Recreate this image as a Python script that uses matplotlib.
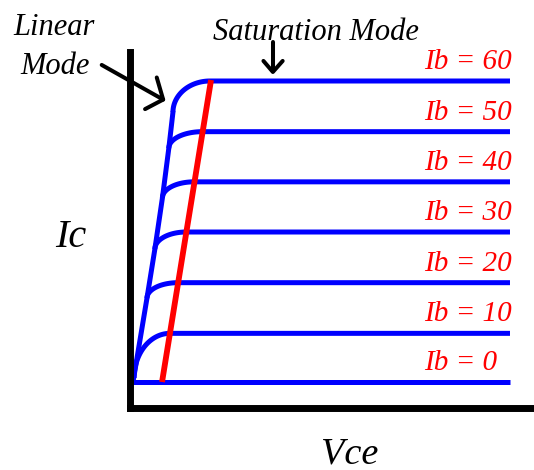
import numpy as np
import matplotlib
matplotlib.use("Agg")
import matplotlib.pyplot as plt

# %% Data (Vce in V, Ic in mA)

ib_values = [0, 10, 20, 30, 40, 50, 60]
ic_sat = [0.0, 0.97, 1.98, 2.99, 3.99, 4.99, 6.0]      # flat level of each curve
knee_vce = [0.0, 0.98, 1.19, 1.41, 1.62, 1.84, 2.04]   # where curve turns flat
arc_start_vce = [0.0, 0.03, 0.37, 0.58, 0.78, 0.95, 1.06]
arc_start_ic = [0.0, 0.08, 1.67, 2.65, 3.67, 4.66, 5.38]
vce_max = 10.0

# linear region envelope
env_vce = [0.0, 0.37, 0.58, 0.78, 0.95, 1.06]
env_ic = [0.0, 1.67, 2.65, 3.67, 4.66, 5.38]

# saturation boundary (red)
red_vce = [0.77, 2.07]
red_ic = [0.0, 6.02]

# %% Figure

W, H = 534, 470
fig = plt.figure(figsize=(W / 100, H / 100), dpi=100)
ax = fig.add_axes([129.5 / W, (H - 407.5) / H, (W - 129.5) / W, (407.5 - 51.7) / H])
ax.set_xlim(-0.093, 10.637)
ax.set_ylim(-0.508, 6.584)
ax.set_xticks([])
ax.set_yticks([])
for s in ["top", "right"]:
    ax.spines[s].set_visible(False)
for s in ["left", "bottom"]:
    ax.spines[s].set_linewidth(5.0)
    ax.spines[s].set_color("black")
    ax.spines[s].set_capstyle("projecting")

blue = "#0000ff"
red = "#ff0000"
font = dict(family="Liberation Serif", style="italic")

# envelope
ax.plot(env_vce, env_ic, color=blue, lw=3.6, solid_capstyle="round",
        solid_joinstyle="round")

# Ib curves: quarter ellipse from the envelope into the flat part
t = np.linspace(0, np.pi / 2, 40)
for i, ib in enumerate(ib_values):
    if ib == 0:
        xs = [0.0, vce_max]
        ys = [0.0, 0.0]
    else:
        x0, y0 = arc_start_vce[i], arc_start_ic[i]
        x1, y1 = knee_vce[i], ic_sat[i]
        xs = list(x1 - (x1 - x0) * np.cos(t)) + [vce_max]
        ys = list(y0 + (y1 - y0) * np.sin(t)) + [y1]
    ax.plot(xs, ys, color=blue, lw=3.6, solid_capstyle="butt",
            solid_joinstyle="round", clip_on=False)
    ax.text(7.72, ic_sat[i] + 0.24, f"Ib = {ib}", color=red, fontsize=21,
            ha="left", va="baseline", **font)

ax.plot(red_vce, red_ic, color=red, lw=4.2, solid_capstyle="butt", zorder=5)

# %% Annotations

ax.text(-3.18, 6.915, "Linear", fontsize=22, ha="left", va="baseline", **font)
ax.text(-3.0, 6.13, "Mode", fontsize=22, ha="left", va="baseline", **font)
ax.text(2.12, 6.81, "Saturation Mode", fontsize=22, ha="left", va="baseline", **font)
ax.text(-2.07, 2.70, "Ic", fontsize=29, ha="left", va="baseline", **font)
ax.text(5.0, -1.62, "Vce", fontsize=27.5, ha="left", va="baseline", **font)

arrow = dict(color="black", lw=2.9, solid_capstyle="round", clip_on=False)
# linear mode arrow
ax.plot([-0.83, 0.80], [6.32, 5.63], **arrow)
ax.plot([0.63, 0.80, 0.32], [6.07, 5.63, 5.44], solid_joinstyle="round", **arrow)
# saturation mode arrow
ax.plot([3.71, 3.71], [6.78, 6.20], **arrow)
ax.plot([3.46, 3.71, 3.97], [6.40, 6.18, 6.40], solid_joinstyle="round", **arrow)

fig.savefig("out.png", dpi=100)
